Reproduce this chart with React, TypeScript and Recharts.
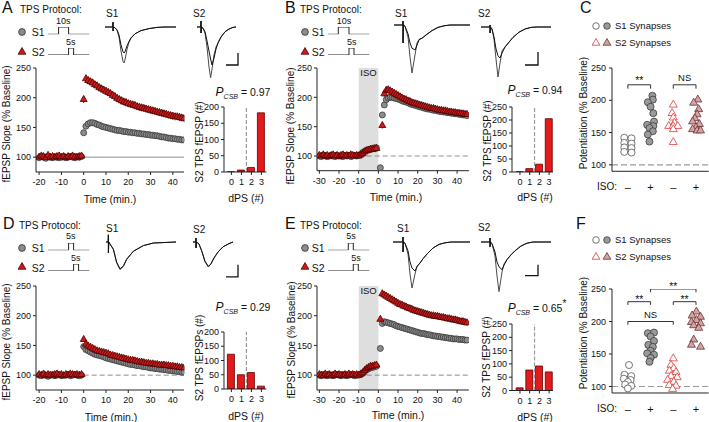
import React from 'react';
import {
  ScatterChart, Scatter, XAxis, YAxis, ReferenceLine, ReferenceArea, ReferenceDot,
  ErrorBar, BarChart, Bar, LineChart, Line, Symbols,
} from 'recharts';

const FONT = '"Liberation Sans", Arial, Helvetica, sans-serif';

// ---------------- time-course data (% baseline) ----------------
const A_S1_pre = [99,101,100,98,101,100,99,101,100,99,100,101,99,100,101,100,99,101,100,101];
const A_S2_pre = [100,102,101,99,103,100,101,99,101,102,100,101,99,101,100,102,100,99,101,102];
const A_S1_post = [141,152,156,158,158,157,155,154,152,151,150,149,148,147,146,145,145,144,143,143,142,142,141,141,140,140,139,139,138,138,137,137,136,136,135,134,134,133,132,132,131,131,130,130,129,129];
const A_S2_post = [197,232,229,227,225,222,220,217,215,213,211,209,207,204,202,199,197,195,193,192,190,189,188,187,185,184,183,182,181,180,179,178,177,176,175,174,173,172,171,170,169,168,168,167,166,165];

const B_S1_pre = [100,99,101,100,99,100,101,100,99,101,100,100,99,101,100,101,99,100,101,100,101,103,106,108,110,111,112,113,114,114];
const B_S2_pre = [101,100,102,100,101,99,101,102,100,101,99,101,102,100,101,100,102,101,100,101,100,102,104,107,109,110,111,111,112,113];
const B_S1_post = [80,170,187,196,199,200,200,199,198,197,196,194,193,192,191,189,188,187,186,185,184,183,182,181,180,180,179,178,178,177,176,176,175,175,174,174,173,173,172,172,171,171,170,170,169];
const B_S2_post = [152,206,212,213,211,209,207,205,203,201,199,197,196,194,193,191,190,189,188,187,186,185,184,183,182,181,181,180,179,178,178,177,177,176,175,175,174,174,173,173,172,172,171,171];

const D_S1_pre = [100,99,101,100,98,100,101,99,100,101,99,100,100,101,99,100,101,100,99,100];
const D_S2_pre = [101,100,102,99,101,100,99,101,102,100,101,99,101,100,102,101,100,101,100,101];
const D_S1_post = [148,143,141,139,137,135,134,133,132,131,129,128,127,126,125,124,123,122,121,120,119,118,118,117,116,116,115,114,114,113,112,112,111,111,110,110,109,109,108,108,107,107,106,106,105,105];
const D_S2_post = [160,152,149,147,145,143,141,140,139,138,137,136,134,133,132,131,130,129,128,127,126,125,125,124,123,122,122,121,120,120,119,119,118,118,117,117,117,116,116,115,115,114,114,113,113,112];

const E_S1_pre = [100,99,101,100,99,101,100,99,100,101,100,99,101,100,99,100,101,100,99,100,100,101,103,106,109,111,112,113,114,115];
const E_S2_pre = [101,100,99,102,100,101,99,100,102,100,101,100,99,101,100,102,100,101,100,101,100,102,104,108,111,113,115,115,116,117];
const E_S1_post = [145,187,190,189,188,187,186,185,183,182,181,180,179,178,177,176,175,174,173,172,171,170,170,169,168,168,167,166,166,165,165,164,164,163,163,162,162,161,161,161,160,160,160,159,159];
const E_S2_post = [194,237,235,233,231,229,227,225,223,221,219,218,216,215,213,212,211,209,208,207,206,205,204,203,202,201,200,200,199,199,198,197,197,196,195,195,194,193,193,192,191,190,190,189,188];

const TICKS_A = [-20, -10, 0, 10, 20, 30, 40];
const TICKS_B = [-30, -20, -10, 0, 10, 20, 30, 40];
const Y_MAIN_TICKS = [100, 150, 200, 250];

// ---------------- dPS histograms ----------------
const DPS = [0, 1, 2, 3];
const A_bars = [1, 6, 14, 182];
const B_bars = [1, 13, 30, 205];
const D_bars = [122, 50, 58, 10];
const E_bars = [10, 77, 92, 70];

// ---------------- potentiation dot plots ----------------
const ISO_LABELS = ['\u2013', '+', '\u2013', '+'];
const C_S1_ctrl = [142, 141, 134, 133, 127, 126, 120, 119];
const C_S1_ctrl_j = [-0.16, 0.16, -0.16, 0.16, -0.16, 0.16, -0.16, 0.16];
const C_S1_iso = [207, 201, 197, 190, 180, 167, 162, 160, 157, 152, 147, 136];
const C_S1_iso_j = [0.08, 0.1, -0.12, 0, 0.12, 0.15, -0.15, 0.12, -0.05, 0.1, -0.12, -0.05];
const C_S2_ctrl = [193, 180, 173, 165, 160, 160, 160, 155, 135];
const C_S2_ctrl_j = [0, -0.05, 0, 0.05, -0.2, 0, 0.2, 0, 0];
const C_S2_iso = [201, 196, 186, 178, 172, 167, 163, 158, 155, 153, 153];
const C_S2_iso_j = [0.08, -0.1, 0.12, 0.05, -0.05, -0.15, 0.15, 0, -0.15, 0.05, 0.2];

const F_S1_ctrl = [133, 118, 116, 112, 110, 107, 103, 101, 97];
const F_S1_ctrl_j = [0.05, -0.15, 0.15, -0.18, 0.12, 0, -0.12, 0.15, 0];
const F_S1_iso = [182, 183, 177, 170, 164, 161, 155, 151, 149, 144, 138];
const F_S1_iso_j = [-0.12, 0.15, 0, 0.15, -0.1, 0.1, 0, -0.15, 0.15, 0, -0.05];
const F_S2_ctrl = [143, 133, 128, 124, 122, 116, 114, 110, 107, 102, 101, 96];
const F_S2_ctrl_j = [0, -0.1, 0.02, -0.17, 0.12, -0.1, 0.17, -0.25, 0.02, -0.18, 0.12, -0.03];
const F_S2_iso = [215, 209, 207, 202, 199, 197, 194, 190, 172, 164, 161];
const F_S2_iso_j = [0.02, -0.17, 0.2, 0.02, -0.2, 0.2, -0.1, 0.12, -0.1, -0.2, 0.2];

// ---------------- example traces: [ms, trace 1 (mV), trace 2 (mV)] ----------------
const A_S1_tr = [[0,0,0],[3.9,0,0],[4,0.12,0.12],[4,-0.1,-0.1],[4.2,0,0],[5,-0.02,-0.02],[6,-0.08,-0.07],[7,-0.25,-0.2],[8,-0.6,-0.45],[9,-0.86,-0.62],[9.5,-0.9,-0.65],[10,-0.82,-0.62],[11,-0.56,-0.47],[12,-0.38,-0.36],[13,-0.28,-0.27],[15,-0.17,-0.17],[18,-0.09,-0.09],[22,-0.04,-0.04],[26,-0.01,-0.01],[30,0,0],[35.5,0,0]];
const A_S2_tr = [[0,0,0],[1.9,0,0],[2,0.15,0.15],[2,-0.15,-0.15],[2.2,0,0],[3,-0.03,-0.03],[4,-0.15,-0.12],[5,-0.5,-0.35],[6,-1.0,-0.6],[6.8,-1.27,-0.8],[7.5,-1.05,-0.95],[8.5,-0.7,-0.78],[9.5,-0.5,-0.55],[10.5,-0.4,-0.4],[12,-0.25,-0.25],[14,-0.12,-0.12],[16,-0.05,-0.05],[18,-0.01,-0.01],[19.5,0,0]];
const A_scale = [[14.5,-0.95],[20.5,-0.95],[20.5,-0.65]];
const B_S1_tr = [[0,0,0],[4.4,0,0],[4.5,0.1,0.1],[4.5,-0.45,-0.45],[4.7,0,0],[5.5,-0.03,-0.03],[7,-0.3,-0.22],[8,-0.8,-0.45],[9,-1.2,-0.58],[10.5,-0.75,-0.625],[11.5,-0.45,-0.5],[12.5,-0.36,-0.38],[13,-0.35,-0.35],[14,-0.33,-0.33],[16,-0.25,-0.25],[19,-0.14,-0.14],[22,-0.06,-0.06],[25,-0.02,-0.02],[28,0,0],[38,0,0]];
const B_S2_tr = [[0,0,0],[4.4,0,0],[4.5,0.05,0.05],[4.5,-0.15,-0.15],[4.7,0,0],[5.5,-0.05,-0.05],[6.5,-0.3,-0.25],[7.5,-0.8,-0.55],[8.5,-1.25,-0.72],[9.5,-0.9,-0.775],[10.5,-0.6,-0.65],[12,-0.5,-0.5],[14,-0.38,-0.38],[16,-0.26,-0.26],[19,-0.13,-0.13],[22,-0.05,-0.05],[25,-0.01,-0.01],[28,0,0],[35,0,0]];
const B_scale = [[22,-0.95],[28.5,-0.95],[28.5,-0.625]];
const D_S1_tr = [[0,0,0],[1.1,0,0],[1.2,0.18,0.18],[1.2,-0.27,-0.27],[1.4,0,0],[1.7,-0.025,-0.025],[3.7,-0.19,-0.18],[5.3,-0.52,-0.5],[7,-0.69,-0.67],[8.7,-0.61,-0.6],[10.3,-0.44,-0.43],[13.7,-0.23,-0.23],[18.7,-0.09,-0.09],[23.7,-0.025,-0.025],[35,0,0]];
const D_S2_tr = [[0,0,0],[1.4,0,0],[1.5,0.1,0.1],[1.5,-0.15,-0.15],[1.7,0,0],[3,-0.05,-0.05],[4.5,-0.25,-0.24],[6,-0.5,-0.48],[7.7,-0.625,-0.61],[9,-0.55,-0.54],[10.5,-0.4,-0.4],[12.5,-0.25,-0.25],[15,-0.12,-0.12],[18,-0.04,-0.04],[20,0,0]];
const D_scale = [[16.5,-0.87],[22.5,-0.87],[22.5,-0.57]];
const E_S1_tr = [[0,0,0],[4.9,0,0],[5,0.125,0.125],[5,-0.25,-0.25],[5.2,0,0],[6,-0.03,-0.03],[7.5,-0.3,-0.22],[8.5,-0.8,-0.5],[9.5,-1.15,-0.65],[11,-0.8,-0.725],[12,-0.6,-0.62],[13.5,-0.525,-0.525],[15,-0.42,-0.42],[17,-0.3,-0.3],[20,-0.15,-0.15],[23,-0.06,-0.06],[26,-0.02,-0.02],[29,0,0],[38.5,0,0]];
const E_S2_tr = [[0,0,0],[4.4,0,0],[4.5,0.1,0.1],[4.5,-0.12,-0.12],[4.7,0,0],[5.5,-0.04,-0.04],[7,-0.35,-0.25],[8,-0.85,-0.5],[9,-1.24,-0.62],[10.5,-0.75,-0.69],[11.5,-0.55,-0.58],[13,-0.44,-0.44],[15,-0.32,-0.32],[17,-0.22,-0.22],[20,-0.1,-0.1],[23,-0.03,-0.03],[26,0,0],[35,0,0]];
const E_scale = [[22,-0.84],[28.5,-0.84],[28.5,-0.57]];

// ---------------- TPS protocols: [pulse on, pulse off] in s, total length ----------------
const PROTO_LEN = 41.6;
const A_P1 = [10.6, 20.6]; const A_P2 = [20.6, 25.6];
const B_P1 = [10.3, 21]; const B_P2 = [21, 26];
const D_P1 = [20.6, 25.6]; const D_P2 = [25.6, 30.6];
const E_P1 = [20.3, 25.3]; const E_P2 = [25.3, 30.3];

// ---------------- helpers ----------------
const tick9 = { fontSize: 9, fill: '#111', fontFamily: FONT };
const AX = '#222';

const mk = (start: number, vals: number[], e: number) => vals.map((y, i) => ({ x: start + i, y, e }));
const grp = (g: number, vals: number[], jit: number[]) => vals.map((y, i) => ({ x: g + jit[i], y }));

const circ = (fill: string, stroke: string, r: number) => (p: any) =>
  <circle cx={p.cx} cy={p.cy} r={r} fill={fill} stroke={stroke} strokeWidth={0.8} />;
const tri = (fill: string, stroke: string, s: number) => (p: any) => {
  const h = s * 0.866;
  return <polygon points={`${p.cx},${p.cy - (2 * h) / 3} ${p.cx - s / 2},${p.cy + h / 3} ${p.cx + s / 2},${p.cy + h / 3}`} fill={fill} stroke={stroke} strokeWidth={0.8} />;
};
const none = () => <g />;

function T({ x, y, s = 10, a = 'start', rot = false, italic = false, children }: any) {
  const tx = a === 'middle' || rot ? '-50%' : a === 'end' ? '-100%' : '0';
  return (
    <div style={{
      position: 'absolute', left: x, top: y, transform: `translate(${tx},-50%)${rot ? ' rotate(-90deg)' : ''}`,
      fontSize: s, fontFamily: FONT, lineHeight: 1, whiteSpace: 'nowrap', color: '#111', fontStyle: italic ? 'italic' : 'normal',
    }}>{children}</div>
  );
}

function Icon({ x, y, kind, fill, stroke, size }: any) {
  return (
    <svg style={{ position: 'absolute', left: x - 7, top: y - 7 }} width={14} height={14}>
      <Symbols cx={7} cy={7} type={kind} size={size} fill={fill} stroke={stroke} strokeWidth={0.8} />
    </svg>
  );
}

function Pcsb({ x, y, v, star }: any) {
  return (
    <div style={{ position: 'absolute', left: x, top: y, transform: 'translate(-50%,-50%)', fontFamily: FONT, whiteSpace: 'nowrap', color: '#111', lineHeight: 1 }}>
      <span style={{ fontStyle: 'italic', fontSize: 12 }}>P</span>
      <span style={{ fontStyle: 'italic', fontSize: 7, position: 'relative', top: 3 }}>CSB</span>
      <span style={{ fontSize: 10.5 }}> = {v}</span>
      {star && <span style={{ fontSize: 10, position: 'relative', top: -5 }}>*</span>}
    </div>
  );
}

function TimeCourse({ plot, xd, xt, s1, s2, iso, seg, dashed }: any) {
  const [x0, y0, x1, y1] = plot;
  const L = 40, TOP = 6, R = 4, B = 24;
  return (
    <div style={{ position: 'absolute', left: x0 - L, top: y0 - TOP }}>
      <ScatterChart width={L + x1 - x0 + R} height={TOP + y1 - y0 + B} margin={{ top: TOP, right: R, bottom: 0, left: 0 }}>
        {iso && (
          <ReferenceArea x1={-10} x2={0} y1={75} y2={250} fill="#dedede" fillOpacity={1} stroke="none"
            label={{ value: 'ISO', position: 'insideTop', offset: 1, fontSize: 9.5, fill: '#111' }} />
        )}
        <ReferenceLine segment={seg} stroke="#8c8c8c" strokeWidth={1} strokeDasharray={dashed ? '5 3' : undefined} />
        <XAxis type="number" dataKey="x" domain={xd} ticks={xt} interval={0} allowDataOverflow height={B}
          tickSize={3} tickMargin={4} tick={tick9} stroke={AX} />
        <YAxis type="number" dataKey="y" domain={[75, 250]} ticks={Y_MAIN_TICKS} interval={0} allowDataOverflow width={L}
          tickSize={3} tickMargin={2} tick={tick9} stroke={AX} />
        <Scatter data={s1} shape={circ('#8c8c8c', '#3a3a3a', 3)} isAnimationActive={false}>
          <ErrorBar dataKey="e" direction="y" width={0} stroke="#4a4a4a" strokeWidth={0.8} isAnimationActive={false} />
        </Scatter>
        <Scatter data={s2} shape={tri('#cc1a1a', '#4a0000', 7)} isAnimationActive={false}>
          <ErrorBar dataKey="e" direction="y" width={0} stroke="#3a0000" strokeWidth={0.9} isAnimationActive={false} />
        </Scatter>
      </ScatterChart>
    </div>
  );
}

function Bars({ plot, xd, yd, yt, vals }: any) {
  const [x0, y0, x1, y1] = plot;
  const L = 30, TOP = 6, R = 3, B = 20;
  const data = vals.map((v: number, i: number) => ({ d: DPS[i], v }));
  return (
    <div style={{ position: 'absolute', left: x0 - L, top: y0 - TOP }}>
      <BarChart width={L + x1 - x0 + R} height={TOP + y1 - y0 + B} data={data} margin={{ top: TOP, right: R, bottom: 0, left: 0 }}>
        <XAxis type="number" dataKey="d" domain={xd} ticks={DPS} interval={0} allowDataOverflow height={B}
          tickSize={3} tickMargin={4} tick={tick9} stroke={AX} />
        <YAxis type="number" domain={yd} ticks={yt} interval={0} allowDataOverflow width={L}
          tickSize={3} tickMargin={2} tick={tick9} stroke={AX} />
        <ReferenceLine x={1.5} stroke="#9a9a9a" strokeWidth={1.2} strokeDasharray="4 2" />
        <Bar dataKey="v" fill="#e3191c" stroke="#5a0000" strokeWidth={0.8} barSize={7} isAnimationActive={false} />
      </BarChart>
    </div>
  );
}

function Dots({ plot, TOP, groups, brackets, marks }: any) {
  const [x0, y0, x1, y1] = plot;
  const L = 40, R = 0, B = 26;
  return (
    <div style={{ position: 'absolute', left: x0 - L, top: y0 - TOP }}>
      <ScatterChart width={L + x1 - x0 + R} height={TOP + y1 - y0 + B} margin={{ top: TOP, right: R, bottom: 0, left: 0 }}>
        <ReferenceLine y={100} stroke="#9a9a9a" strokeWidth={1.2} strokeDasharray="6 3" />
        <XAxis type="number" dataKey="x" domain={[-0.7, 3.56]} ticks={DPS} interval={0} allowDataOverflow height={B}
          tickLine={false} tickSize={0} tickMargin={12} tickFormatter={(v: number) => ISO_LABELS[v]}
          tick={{ fontSize: 11, fill: '#111', fontFamily: FONT }} stroke={AX} />
        <YAxis type="number" dataKey="y" domain={[90, 250]} ticks={Y_MAIN_TICKS} interval={0} allowDataOverflow width={L}
          tickSize={3} tickMargin={3} tick={tick9} stroke={AX} />
        {brackets.map((b: any, i: number) => (
          <Scatter key={'b' + i} data={b} shape={none} line={{ stroke: '#333', strokeWidth: 1 }} lineType="joint" isAnimationActive={false} />
        ))}
        {groups.map((g: any, i: number) => (
          <Scatter key={'g' + i} data={g.data} shape={g.shape} isAnimationActive={false} />
        ))}
        {marks.map((m: any, i: number) => (
          <ReferenceDot key={'m' + i} x={m.x} y={m.y} r={0} ifOverflow="visible" fill="none" stroke="none"
            label={{ value: m.t, position: 'center', fontSize: m.t === 'NS' ? 9.5 : 10.5, fill: '#111' }} />
        ))}
      </ScatterChart>
    </div>
  );
}

function Trace({ x0, x1, yTop, yBot, xd, yd, rows, bar }: any) {
  const M = 3;
  const data = rows.map((r: number[]) => ({ t: r[0], a: r[1], b: r[2] }));
  return (
    <div style={{ position: 'absolute', left: x0 - M, top: yTop - M }}>
      <LineChart width={x1 - x0 + 2 * M} height={yBot - yTop + 2 * M} data={data} margin={{ top: M, right: M, bottom: M, left: M }}>
        <XAxis type="number" dataKey="t" domain={xd} hide allowDataOverflow />
        <YAxis type="number" domain={yd} hide allowDataOverflow />
        <Line dataKey="a" stroke="#4a4a4a" strokeWidth={1} dot={false} isAnimationActive={false} />
        <Line dataKey="b" stroke="#111" strokeWidth={1} dot={false} isAnimationActive={false} />
        {bar && (
          <Line data={bar.map((p: number[]) => ({ t: p[0], v: p[1] }))} dataKey="v" stroke="#111" strokeWidth={1.3} dot={false} isAnimationActive={false} />
        )}
      </LineChart>
    </div>
  );
}

function Step({ x0, x1, yBase, yTop, pulse }: any) {
  const M = 2;
  const data = [
    { t: 0, v: 0 }, { t: pulse[0], v: 0 }, { t: pulse[0], v: 1 },
    { t: pulse[1], v: 1 }, { t: pulse[1], v: 0 }, { t: PROTO_LEN, v: 0 },
  ];
  return (
    <div style={{ position: 'absolute', left: x0 - M, top: yTop - M }}>
      <LineChart width={x1 - x0 + 2 * M} height={yBase - yTop + 2 * M} data={data} margin={{ top: M, right: M, bottom: M, left: M }}>
        <XAxis type="number" dataKey="t" domain={[0, PROTO_LEN]} hide allowDataOverflow />
        <YAxis type="number" domain={[0, 1]} hide allowDataOverflow />
        <Line dataKey="v" stroke="#222" strokeWidth={1} dot={false} isAnimationActive={false} />
      </LineChart>
    </div>
  );
}

function Protocol({ ox, oy, lx, p1, p2, d1, d2, title }: any) {
  // ox: icon x, oy: panel y-offset, lx: step-line start x
  return (
    <>
      <T x={title} y={10 + oy} s={10}>TPS Protocol:</T>
      <Icon x={ox} y={32.3 + oy} kind="circle" size={36} fill="#8c8c8c" stroke="#333" />
      <Icon x={ox} y={51.5 + oy} kind="triangle" size={26} fill="#cc1a1a" stroke="#4a0000" />
      <T x={ox + (ox > 100 ? 6.7 : 10)} y={32.3 + oy} s={10.5}>S1</T>
      <T x={ox + (ox > 100 ? 6.7 : 10)} y={52 + oy} s={10.5}>S2</T>
      <Step x0={lx} x1={lx + PROTO_LEN} yBase={34.3 + oy} yTop={27 + oy} pulse={p1} />
      <Step x0={lx} x1={lx + PROTO_LEN} yBase={55 + oy} yTop={48 + oy} pulse={p2} />
      <T x={lx + (p1[0] + p1[1]) / 2} y={20.7 + oy} s={9} a="middle">{d1}</T>
      <T x={lx + (p2[0] + p2[1]) / 2} y={42.3 + oy} s={9} a="middle">{d2}</T>
    </>
  );
}

export default function App() {
  const A1 = [...mk(-20, A_S1_pre, 3), ...mk(0, A_S1_post, 3)];
  const A2 = [...mk(-20, A_S2_pre, 3), ...mk(0, A_S2_post, 6)];
  const B1 = [...mk(-30, B_S1_pre, 3), ...mk(1, B_S1_post, 5)];
  const B2 = [...mk(-30, B_S2_pre, 3), ...mk(2, B_S2_post, 5)];
  const D1 = [...mk(-20, D_S1_pre, 2), ...mk(0, D_S1_post, 3)];
  const D2 = [...mk(-20, D_S2_pre, 2), ...mk(0, D_S2_post, 4)];
  const E1 = [...mk(-30, E_S1_pre, 3), ...mk(1, E_S1_post, 4)];
  const E2 = [...mk(-30, E_S2_pre, 3), ...mk(1, E_S2_post, 5)];

  const openC = circ('#ffffff', '#555', 3.5);
  const grayC = circ('#9a9a9a', '#3a3a3a', 3.5);
  const openT = tri('#ffffff', '#e03a3a', 8);
  const pinkT = tri('#d6a3a3', '#6a3030', 8);

  const cGroups = [
    { data: grp(0, C_S1_ctrl, C_S1_ctrl_j), shape: openC },
    { data: grp(1, C_S1_iso, C_S1_iso_j), shape: grayC },
    { data: grp(2, C_S2_ctrl, C_S2_ctrl_j), shape: openT },
    { data: grp(3, C_S2_iso, C_S2_iso_j), shape: pinkT },
  ];
  const fGroups = [
    { data: grp(0, F_S1_ctrl, F_S1_ctrl_j), shape: openC },
    { data: grp(1, F_S1_iso, F_S1_iso_j), shape: grayC },
    { data: grp(2, F_S2_ctrl, F_S2_ctrl_j), shape: openT },
    { data: grp(3, F_S2_iso, F_S2_iso_j), shape: pinkT },
  ];
  const br = (a: number, b: number, y: number, d: number) => [{ x: a, y: y - d }, { x: a, y }, { x: b, y }, { x: b, y: y - d }];

  return (
    <div style={{ position: 'absolute', left: 0, top: 0, width: 709, height: 422, overflow: 'hidden', background: '#fff', fontFamily: FONT }}>
      {/* panel letters */}
      <T x={2} y={8} s={16}>A</T>
      <T x={285} y={8} s={16}>B</T>
      <T x={580} y={8} s={16}>C</T>
      <T x={3} y={224} s={16}>D</T>
      <T x={285} y={224} s={16}>E</T>
      <T x={576} y={224} s={16}>F</T>

      {/* protocols */}
      <Protocol ox={21.7} oy={0} lx={47.7} p1={A_P1} p2={A_P2} d1="10s" d2="5s" title={20} />
      <Protocol ox={305} oy={0} lx={328.3} p1={B_P1} p2={B_P2} d1="10s" d2="5s" title={300} />
      <Protocol ox={21.7} oy={215.5} lx={47.7} p1={D_P1} p2={D_P2} d1="5s" d2="5s" title={19} />
      <Protocol ox={305} oy={215.5} lx={328.3} p1={E_P1} p2={E_P2} d1="5s" d2="5s" title={300} />

      {/* traces */}
      <T x={106} y={13.5}>S1</T>
      <T x={193} y={14}>S2</T>
      <T x={395} y={13.5}>S1</T>
      <T x={478} y={13.5}>S2</T>
      <T x={106} y={228.5}>S1</T>
      <T x={193} y={229.5}>S2</T>
      <T x={397} y={228.5}>S1</T>
      <T x={478} y={228}>S2</T>
      <Trace x0={105} x1={176} yTop={19} yBot={67} xd={[0, 35.5]} yd={[-1.0, 0.2]} rows={A_S1_tr} />
      <Trace x0={197} x1={240} yTop={19} yBot={81} xd={[0, 21.5]} yd={[-1.35, 0.2]} rows={A_S2_tr} bar={A_scale} />
      <Trace x0={394} x1={470} yTop={17} yBot={77} xd={[0, 38]} yd={[-1.3, 0.2]} rows={B_S1_tr} />
      <Trace x0={481} x1={552} yTop={19} yBot={81} xd={[0, 35.5]} yd={[-1.35, 0.2]} rows={B_S2_tr} bar={B_scale} />
      <Trace x0={106} x1={176} yTop={232.3} yBot={274.3} xd={[0, 35]} yd={[-0.8, 0.25]} rows={D_S1_tr} />
      <Trace x0={193} x1={240} yTop={232.3} yBot={278.3} xd={[0, 23.5]} yd={[-0.9, 0.25]} rows={D_S2_tr} bar={D_scale} />
      <Trace x0={393} x1={470} yTop={234} yBot={292} xd={[0, 38.5]} yd={[-1.25, 0.2]} rows={E_S1_tr} />
      <Trace x0={481} x1={552} yTop={234.3} yBot={294.3} xd={[0, 35.5]} yd={[-1.3, 0.2]} rows={E_S2_tr} bar={E_scale} />

      {/* time courses */}
      <TimeCourse plot={[36, 68, 184, 172]} xd={[-21.4, 45]} xt={TICKS_A} s1={A1} s2={A2}
        seg={[{ x: 0, y: 100 }, { x: 45, y: 100 }]} />
      <TimeCourse plot={[317.3, 68.3, 469.2, 171]} xd={[-31.2, 46]} xt={TICKS_B} s1={B1} s2={B2} iso
        seg={[{ x: -10, y: 100 }, { x: 46, y: 100 }]} dashed />
      <TimeCourse plot={[36, 286, 184, 390]} xd={[-21.4, 45]} xt={TICKS_A} s1={D1} s2={D2}
        seg={[{ x: 0, y: 100 }, { x: 45, y: 100 }]} dashed />
      <TimeCourse plot={[317.3, 286, 469.2, 390]} xd={[-31.2, 46]} xt={TICKS_B} s1={E1} s2={E2} iso
        seg={[{ x: -10, y: 100 }, { x: 46, y: 100 }]} dashed />
      <T x={7} y={124} rot>fEPSP Slope (% Baseline)</T>
      <T x={291} y={126} rot>fEPSP Slope (% Baseline)</T>
      <T x={7} y={342} rot>fEPSP Slope (% Baseline)</T>
      <T x={292} y={340} rot>fEPSP Slope (% Baseline)</T>
      <T x={110} y={199} s={10.5} a="middle">Time (min.)</T>
      <T x={396} y={197} s={10.5} a="middle">Time (min.)</T>
      <T x={111} y={416.5} s={10.5} a="middle">Time (min.)</T>
      <T x={398} y={415} s={10.5} a="middle">Time (min.)</T>

      {/* dPS histograms */}
      <Bars plot={[224.3, 107, 266.7, 172]} xd={[-0.74, 3.5]} yd={[0, 200]} yt={[0, 50, 100, 150, 200]} vals={A_bars} />
      <Bars plot={[512, 106.7, 553, 171.7]} xd={[-0.82, 3.4]} yd={[0, 250]} yt={[0, 50, 100, 150, 200, 250]} vals={B_bars} />
      <Bars plot={[224.3, 332.3, 266.7, 389.3]} xd={[-0.74, 3.5]} yd={[0, 200]} yt={[0, 50, 100, 150, 200]} vals={D_bars} />
      <Bars plot={[512, 323.5, 553, 390]} xd={[-0.82, 3.4]} yd={[0, 250]} yt={[0, 50, 100, 150, 200, 250]} vals={E_bars} />
      <Pcsb x={243} y={91} v="0.97" />
      <Pcsb x={535} y={89} v="0.94" />
      <Pcsb x={243} y={306} v="0.29" />
      <Pcsb x={537} y={306.5} v="0.65" star />
      <T x={200} y={142} rot>S2 TPS fEPSP (#)</T>
      <T x={488} y={141} rot>S2 TPS fEPSP (#)</T>
      <T x={200} y={358} rot>S2 TPS fEPSPs (#)</T>
      <T x={487} y={357} rot>S2 TPS fEPSP (#)</T>
      <T x={246} y={198} s={10.5} a="middle">dPS (#)</T>
      <T x={535} y={196.7} s={10.5} a="middle">dPS (#)</T>
      <T x={246} y={416} s={10.5} a="middle">dPS (#)</T>
      <T x={535} y={416.5} s={10.5} a="middle">dPS (#)</T>

      {/* potentiation summaries */}
      <Dots plot={[612.3, 67.7, 709, 171]} TOP={8} groups={cGroups}
        brackets={[br(0, 1, 224, 6), br(2, 3, 224, 6)]}
        marks={[{ x: 0.5, y: 231, t: '**' }, { x: 2.5, y: 234.5, t: 'NS' }]} />
      <Dots plot={[612.3, 289, 709, 393]} TOP={14} groups={fGroups}
        brackets={[br(0, 1, 230.5, 5), br(1, 3, 250, 5), br(2, 3, 230.5, 5), br(0, 2, 200, 5)]}
        marks={[{ x: 0.5, y: 234, t: '**' }, { x: 2, y: 254, t: '**' }, { x: 2.5, y: 234, t: '**' }, { x: 1, y: 210, t: 'NS' }]} />
      <T x={584} y={113} rot>Potentiation (% Baseline)</T>
      <T x={584} y={333} rot>Potentiation (% Baseline)</T>
      <T x={597} y={187} s={10}>ISO:</T>
      <T x={597} y={409} s={10}>ISO:</T>

      {/* legends */}
      <Icon x={596} y={25.7} kind="circle" size={34} fill="#fff" stroke="#555" />
      <Icon x={607} y={25.7} kind="circle" size={34} fill="#9a9a9a" stroke="#3a3a3a" />
      <T x={615} y={25.7} s={9.5}>S1 Synapses</T>
      <Icon x={596} y={43.3} kind="triangle" size={26} fill="#fff" stroke="#e03a3a" />
      <Icon x={607} y={43.3} kind="triangle" size={26} fill="#d6a3a3" stroke="#6a3030" />
      <T x={615} y={43.3} s={9.5}>S2 Synapses</T>
      <Icon x={596} y={240} kind="circle" size={34} fill="#fff" stroke="#555" />
      <Icon x={607} y={240} kind="circle" size={34} fill="#9a9a9a" stroke="#3a3a3a" />
      <T x={615} y={240} s={9.5}>S1 Synapses</T>
      <Icon x={596} y={257.3} kind="triangle" size={26} fill="#fff" stroke="#e03a3a" />
      <Icon x={607} y={257.3} kind="triangle" size={26} fill="#d6a3a3" stroke="#6a3030" />
      <T x={615} y={257.3} s={9.5}>S2 Synapses</T>
    </div>
  );
}
